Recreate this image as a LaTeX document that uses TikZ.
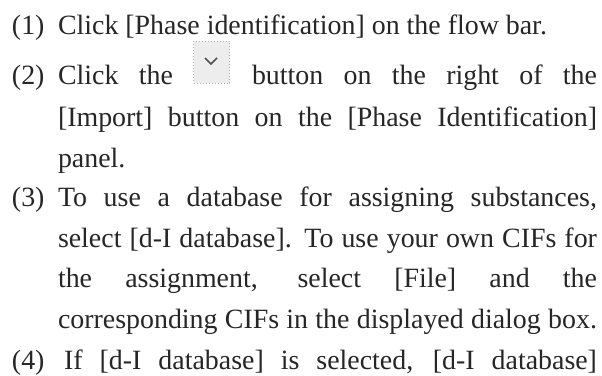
\documentclass[tikz,border=0pt]{standalone}
\usepackage{fontspec}
\setmainfont{Liberation Serif}
\definecolor{ink}{HTML}{262626}
\tikzset{
 txt/.style={anchor=base west,inner sep=0pt,outer sep=0pt,text=ink,font=\fontsize{27.9}{32}\selectfont},
 btn/.style={draw=black!30,dotted,line width=1pt,fill=black!7,minimum width=36pt,minimum height=42pt,inner sep=0pt,outer sep=0pt}
}
\newcommand{\jl}[2]{\makebox[#1pt][s]{#2}}
\begin{document}
\begin{tikzpicture}[x=1pt,y=-1pt]
\useasboundingbox[fill=white] (0,0) rectangle (602,375);
\node[txt] (n1) at (12,34) {(1)};
\node[txt] (l1) at (58,34) {Click [Phase identification] on the flow bar.};
\node[txt] (n2) at (12,84) {(2)};
\node[txt] (l2a) at (58,84) {\jl{115}{Click the}};
\node[btn] (b) at (211.5,62) {};
\draw[ink!80,line width=1.6pt] (205,58) -- (211,64) -- (217,58);
\node[txt] (l2b) at (252,84) {\jl{345}{button on the right of the}};
\node[txt] (l3) at (58,126) {\jl{539}{[Import] button on the [Phase Identification]}};
\node[txt] (l4) at (58,167) {panel.};
\node[txt] (n3) at (12,206) {(3)};
\node[txt] (l5) at (58,206) {\jl{539}{To use a database for assigning substances,}};
\node[txt] (l6) at (58,247) {\jl{539}{select [d-I database]. To use your own CIFs for}};
\node[txt] (l7) at (58,287) {\jl{539}{the assignment, select [File] and the}};
\node[txt] (l8) at (58,328) {\jl{539}{corresponding CIFs in the displayed dialog box.}};
\node[txt] (n4) at (12,369) {(4)};
\node[txt] (l9) at (64,369) {\jl{533}{If [d-I database] is selected, [d-I database]}};
\end{tikzpicture}
\end{document}
